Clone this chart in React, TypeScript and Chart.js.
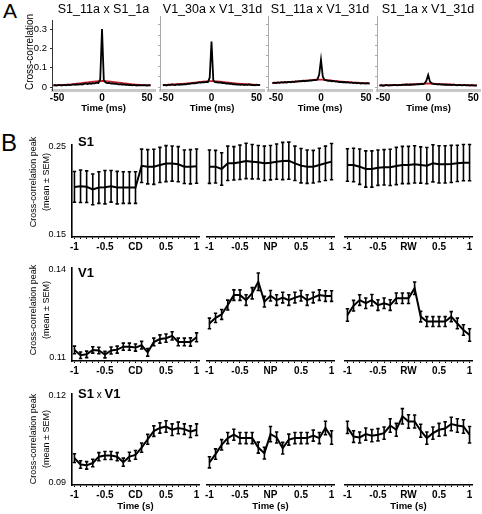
import React, { useEffect, useRef } from 'react';
import { Chart, registerables } from 'chart.js';

Chart.register(...registerables);

const FONT = '"Liberation Sans", Arial, Helvetica, sans-serif';
Chart.defaults.font.family = FONT;

// ---------------- Panel A data (cross-correlograms) ----------------
const lagsA = [-54, -52, -50, -48, -46, -44, -42, -40, -38, -36, -34, -32, -30, -28, -26, -24, -22, -20, -18, -16, -14, -12, -10, -8, -6, -4, -2, 0, 2, 4, 6, 8, 10, 12, 14, 16, 18, 20, 22, 24, 26, 28, 30, 32, 34, 36, 38, 40, 42, 44, 46, 48, 50, 52, 54];
const ccS1S1 = [0.009, 0.011, 0.008, 0.012, 0.010, 0.009, 0.012, 0.010, 0.013, 0.011, 0.012, 0.014, 0.012, 0.015, 0.013, 0.016, 0.014, 0.017, 0.019, 0.016, 0.020, 0.018, 0.021, 0.020, 0.023, 0.022, 0.040, 0.300, 0.036, 0.024, 0.021, 0.022, 0.019, 0.020, 0.017, 0.018, 0.015, 0.016, 0.014, 0.015, 0.012, 0.013, 0.011, 0.012, 0.010, 0.012, 0.009, 0.011, 0.010, 0.009, 0.011, 0.010, 0.008, 0.010, 0.009];
const ccV1V1 = [0.008, 0.010, 0.007, 0.011, 0.009, 0.012, 0.010, 0.009, 0.012, 0.011, 0.013, 0.012, 0.014, 0.013, 0.016, 0.015, 0.017, 0.019, 0.018, 0.020, 0.022, 0.021, 0.023, 0.022, 0.025, 0.024, 0.045, 0.220, 0.032, 0.024, 0.023, 0.021, 0.022, 0.019, 0.020, 0.017, 0.018, 0.015, 0.016, 0.013, 0.014, 0.012, 0.013, 0.010, 0.012, 0.009, 0.011, 0.010, 0.012, 0.009, 0.010, 0.008, 0.011, 0.009, 0.010];
const ccS1V1a = [0.018, 0.021, 0.019, 0.022, 0.020, 0.023, 0.021, 0.024, 0.022, 0.025, 0.023, 0.026, 0.024, 0.027, 0.026, 0.028, 0.027, 0.030, 0.028, 0.031, 0.030, 0.032, 0.031, 0.034, 0.033, 0.036, 0.060, 0.132, 0.050, 0.034, 0.032, 0.030, 0.031, 0.028, 0.029, 0.026, 0.027, 0.024, 0.025, 0.023, 0.024, 0.021, 0.023, 0.020, 0.022, 0.019, 0.021, 0.018, 0.020, 0.017, 0.019, 0.018, 0.017, 0.019, 0.016];
const ccS1V1b = [0.007, 0.009, 0.006, 0.008, 0.010, 0.007, 0.009, 0.008, 0.010, 0.009, 0.008, 0.010, 0.009, 0.011, 0.010, 0.012, 0.010, 0.012, 0.011, 0.013, 0.012, 0.014, 0.013, 0.015, 0.014, 0.017, 0.030, 0.058, 0.026, 0.017, 0.015, 0.014, 0.013, 0.014, 0.012, 0.013, 0.011, 0.012, 0.010, 0.011, 0.009, 0.011, 0.010, 0.008, 0.010, 0.009, 0.008, 0.010, 0.008, 0.009, 0.007, 0.009, 0.008, 0.007, 0.008];

const lagsRed = [-54, -44, -34, -24, -14, -6, 0, 6, 14, 24, 34, 44, 54];
const redS1S1 = [0.010, 0.012, 0.015, 0.020, 0.026, 0.030, 0.032, 0.030, 0.026, 0.020, 0.015, 0.012, 0.010];
const redV1V1 = [0.010, 0.012, 0.015, 0.019, 0.024, 0.027, 0.028, 0.027, 0.024, 0.019, 0.015, 0.012, 0.010];
const redS1V1a = [0.020, 0.022, 0.025, 0.028, 0.032, 0.035, 0.036, 0.034, 0.030, 0.026, 0.022, 0.020, 0.018];
const redS1V1b = [0.008, 0.009, 0.010, 0.012, 0.014, 0.016, 0.017, 0.016, 0.014, 0.012, 0.010, 0.009, 0.008];

const titlesA = ['S1_11a x S1_1a', 'V1_30a x V1_31d', 'S1_11a x V1_31d', 'S1_1a x V1_31d'];
const xTicksA = [-50, 0, 50];
const yTicksA = [0, 0.05, 0.1, 0.15, 0.2, 0.25, 0.3];
const yLabelsA = ['0', '', '0.1', '', '0.2', '', '0.3'];

// ---------------- Panel B data (peak mean ± SEM) ----------------
const timeB = [-1, -0.9, -0.8, -0.7, -0.6, -0.5, -0.4, -0.3, -0.2, -0.1, 0, 0.1, 0.2, 0.3, 0.4, 0.5, 0.6, 0.7, 0.8, 0.9, 1];
const eventNames = ['CD', 'NP', 'RW'];
const xLabelTicksB = [-1, -0.5, 0, 0.5, 1];
const xLabelTextB = ['-1', '-0.5', '', '0.5', '1'];

const s1CD = [0.2038, 0.2045, 0.2040, 0.2010, 0.2030, 0.2035, 0.2045, 0.2030, 0.2030, 0.2030, 0.2030, 0.2278, 0.2267, 0.2267, 0.2288, 0.2303, 0.2303, 0.2296, 0.2267, 0.2267, 0.2274];
const s1CDerr = [0.0175, 0.0185, 0.018, 0.0175, 0.018, 0.019, 0.018, 0.0185, 0.018, 0.018, 0.018, 0.019, 0.0195, 0.020, 0.020, 0.0205, 0.020, 0.020, 0.019, 0.0195, 0.0195];
const s1NP = [0.2224, 0.2224, 0.2199, 0.2260, 0.2260, 0.2271, 0.2285, 0.2278, 0.2271, 0.2260, 0.2267, 0.2278, 0.2285, 0.2288, 0.2260, 0.2235, 0.2224, 0.2224, 0.2242, 0.2260, 0.2278];
const s1NPerr = [0.018, 0.0175, 0.0175, 0.0185, 0.018, 0.0185, 0.019, 0.0185, 0.018, 0.0185, 0.0185, 0.019, 0.020, 0.020, 0.0185, 0.0185, 0.018, 0.0175, 0.018, 0.0185, 0.0195];
const s1RW = [0.2242, 0.2242, 0.2224, 0.2199, 0.2199, 0.2213, 0.2217, 0.2217, 0.2231, 0.2242, 0.2242, 0.2249, 0.2242, 0.2235, 0.2260, 0.2249, 0.2249, 0.2253, 0.2260, 0.2267, 0.2267];
const s1RWerr = [0.0175, 0.018, 0.019, 0.0195, 0.0195, 0.019, 0.019, 0.0195, 0.020, 0.020, 0.020, 0.020, 0.0195, 0.0195, 0.020, 0.020, 0.020, 0.020, 0.0195, 0.0195, 0.0195];

const v1CD = [0.1127, 0.1109, 0.1112, 0.1127, 0.1125, 0.1111, 0.1125, 0.1128, 0.1138, 0.1138, 0.1135, 0.1143, 0.1119, 0.1154, 0.1164, 0.1167, 0.1175, 0.1154, 0.1154, 0.1154, 0.1170];
const v1CDerr = [0.0013, 0.0011, 0.0011, 0.0011, 0.0011, 0.0011, 0.0012, 0.0012, 0.0012, 0.0012, 0.0012, 0.0013, 0.0013, 0.0013, 0.0014, 0.0014, 0.0014, 0.0013, 0.0013, 0.0014, 0.0015];
const v1NP = [0.1210, 0.1228, 0.1239, 0.1269, 0.1301, 0.1301, 0.1285, 0.1307, 0.1344, 0.1280, 0.1299, 0.1285, 0.1293, 0.1285, 0.1293, 0.1299, 0.1285, 0.1293, 0.1301, 0.1298, 0.1298];
const v1NPerr = [0.0017, 0.0015, 0.0016, 0.0016, 0.0017, 0.0017, 0.0017, 0.0018, 0.0028, 0.0017, 0.0017, 0.0017, 0.0017, 0.0017, 0.0017, 0.0017, 0.0017, 0.0017, 0.0017, 0.0017, 0.0017];
const v1RW = [0.1237, 0.1267, 0.1285, 0.1275, 0.1285, 0.1269, 0.1275, 0.1269, 0.1291, 0.1291, 0.1291, 0.1323, 0.1232, 0.1216, 0.1216, 0.1216, 0.1216, 0.1232, 0.1210, 0.1189, 0.1173];
const v1RWerr = [0.0020, 0.0017, 0.0017, 0.0017, 0.0018, 0.0017, 0.0017, 0.0017, 0.0017, 0.0017, 0.0017, 0.0020, 0.0017, 0.0016, 0.0016, 0.0016, 0.0016, 0.0016, 0.0017, 0.0017, 0.0020];

const xCD = [0.0984, 0.0962, 0.0959, 0.0967, 0.0989, 0.0993, 0.0993, 0.0989, 0.0970, 0.0989, 0.0995, 0.1020, 0.1049, 0.1077, 0.1088, 0.1093, 0.1082, 0.1088, 0.1084, 0.1075, 0.1082];
const xCDerr = [0.0015, 0.0013, 0.0013, 0.0013, 0.0014, 0.0014, 0.0014, 0.0014, 0.0014, 0.0015, 0.0015, 0.0016, 0.0017, 0.0018, 0.0018, 0.0020, 0.0020, 0.0020, 0.0018, 0.0020, 0.0020];
const xNP = [0.0965, 0.0992, 0.1022, 0.1044, 0.1055, 0.1044, 0.1044, 0.1044, 0.1013, 0.0995, 0.1057, 0.1046, 0.1011, 0.1039, 0.1044, 0.1044, 0.1044, 0.1052, 0.1044, 0.1077, 0.1046];
const xNPerr = [0.0018, 0.0017, 0.0017, 0.0018, 0.0018, 0.0018, 0.0018, 0.0018, 0.0018, 0.0019, 0.0025, 0.0018, 0.0019, 0.0018, 0.0018, 0.0018, 0.0018, 0.0018, 0.0018, 0.0022, 0.0022];
const xRW = [0.1079, 0.1049, 0.1046, 0.1057, 0.1052, 0.1055, 0.1060, 0.1085, 0.1071, 0.1115, 0.1098, 0.1098, 0.1068, 0.1044, 0.1060, 0.1071, 0.1075, 0.1090, 0.1085, 0.1082, 0.1055];
const xRWerr = [0.0020, 0.0019, 0.0018, 0.0020, 0.0020, 0.0020, 0.0020, 0.0022, 0.0021, 0.0025, 0.0022, 0.0021, 0.0021, 0.0020, 0.0020, 0.0021, 0.0022, 0.0022, 0.0022, 0.0022, 0.0027];

const rowNames = ['S1', 'V1', 'S1 x V1'];
const rowYTicks = [[0.15, 0.25], [0.11, 0.14], [0.09, 0.12]];
const rowYLabels = [['0.15', '0.25'], ['0.11', '0.14'], ['0.09', '0.12']];
const rowValues = [[s1CD, s1NP, s1RW], [v1CD, v1NP, v1RW], [xCD, xNP, xRW]];
const rowErrors = [[s1CDerr, s1NPerr, s1RWerr], [v1CDerr, v1NPerr, v1RWerr], [xCDerr, xNPerr, xRWerr]];

// ---------------- layout (pixels) ----------------
const rowsB = [
  { t: 139, b: 237, min: 0.14677, max: 0.25215 },
  { t: 262, b: 361, min: 0.10894, max: 0.14074 },
  { t: 388, b: 485, min: 0.08912, max: 0.12072 },
];
const colsB = [{ l: 72, r: 199 }, { l: 207, r: 334 }, { l: 345, r: 472 }];
const colsA = [
  { l: 52, r: 155, min: -55.6, max: 58.9 },
  { l: 160, r: 264, min: -57.2, max: 58.3 },
  { l: 268, r: 372, min: -58.9, max: 56.7 },
  { l: 377, r: 480, min: -56.7, max: 57.4 },
];
const titleCentersA = [103.5, 212.5, 320, 428];

const errorBarPlugin = {
  id: 'errorBars',
  afterDatasetsDraw(chart: any) {
    const ctx = chart.ctx;
    chart.data.datasets.forEach((ds: any, i: number) => {
      const errs = ds.errors;
      if (!errs) return;
      const meta = chart.getDatasetMeta(i);
      const xs = chart.scales[meta.xAxisID];
      const ys = chart.scales[meta.yAxisID];
      ctx.save();
      ctx.strokeStyle = '#000';
      ctx.lineWidth = 1.6;
      ds.data.forEach((p: any, j: number) => {
        const x = xs.getPixelForValue(p.x);
        const y1 = ys.getPixelForValue(p.y - errs[j]);
        const y2 = ys.getPixelForValue(p.y + errs[j]);
        ctx.beginPath();
        ctx.moveTo(x, y1);
        ctx.lineTo(x, y2);
        ctx.moveTo(x - 1.7, y1);
        ctx.lineTo(x + 1.7, y1);
        ctx.moveTo(x - 1.7, y2);
        ctx.lineTo(x + 1.7, y2);
        ctx.stroke();
      });
      ctx.restore();
    });
  },
};

type Spec = { box: { left: number; top: number; width: number; height: number }; make: () => any };

function baseOptions(pad: any) {
  return {
    animation: false,
    responsive: false,
    maintainAspectRatio: false,
    events: [],
    layout: { padding: { left: pad.l, right: pad.r, top: pad.t, bottom: pad.b }, autoPadding: false },
    plugins: { legend: { display: false }, tooltip: { enabled: false }, title: { display: false } },
  };
}

function boxFor(area: any, yw: number, xh: number, pad: any) {
  return {
    left: area.l - yw - pad.l,
    top: area.t - pad.t,
    width: pad.l + yw + (area.r - area.l) + pad.r,
    height: pad.t + (area.b - area.t) + xh + pad.b,
  };
}

function specsA(): Spec[] {
  const series = [ccS1S1, ccV1V1, ccS1V1a, ccS1V1b];
  const reds = [redS1S1, redV1V1, redS1V1a, redS1V1b];
  return colsA.map((c, i) => {
    const yw = i === 0 ? 22 : 4;
    const xh = 24;
    const pad = { l: i === 0 ? 0 : 6, r: i === 3 ? 2 : 8, t: 4, b: 0 };
    const area = { l: c.l, r: c.r, t: 16, b: 90 };
    const axisCol = i === 0 ? '#333' : '#aaa';
    return {
      box: boxFor(area, yw, xh, pad),
      make: () => ({
        type: 'line',
        data: {
          datasets: [
            {
              data: lagsA.map((x, k) => ({ x, y: series[i][k] })),
              borderColor: '#000',
              borderWidth: 1.8,
              pointRadius: 0,
              tension: 0,
            },
            {
              data: lagsRed.map((x, k) => ({ x, y: reds[i][k] })),
              borderColor: '#c8202c',
              borderWidth: 1.8,
              pointRadius: 0,
              tension: 0.4,
            },
          ],
        },
        options: {
          ...baseOptions(pad),
          scales: {
            x: {
              type: 'linear',
              min: c.min,
              max: c.max,
              afterBuildTicks: (s: any) => { s.ticks = xTicksA.map((v) => ({ value: v })); },
              afterFit: (s: any) => { s.height = xh; },
              ticks: {
                autoSkip: false, maxRotation: 0, minRotation: 0, padding: 0, color: '#000',
                font: { family: FONT, size: 10, weight: 'bold' },
                callback: (v: number) => String(v),
              },
              grid: { display: true, drawOnChartArea: false, drawTicks: true, tickLength: 2, color: '#999', lineWidth: 1 },
              border: { display: true, color: '#c8c8c8', width: 3 },
              title: { display: true, text: 'Time (ms)', color: '#000', padding: 0, font: { family: FONT, size: 9.5, weight: 'bold' } },
            },
            y: {
              type: 'linear',
              min: -0.0145,
              max: 0.3435,
              afterBuildTicks: (s: any) => { s.ticks = yTicksA.map((v) => ({ value: v })); },
              afterFit: (s: any) => { s.width = yw; },
              ticks: {
                display: i === 0, padding: 3, color: '#000',
                font: { family: FONT, size: 9.5 },
                callback: (_v: number, idx: number) => yLabelsA[idx],
              },
              grid: { display: true, drawOnChartArea: false, drawTicks: true, tickLength: 2, color: axisCol, lineWidth: 1 },
              border: { display: true, color: axisCol, width: 1 },
            },
          },
        },
      }),
    };
  });
}

function specsB(): Spec[] {
  const out: Spec[] = [];
  rowsB.forEach((row, r) => {
    colsB.forEach((col, c) => {
      const showY = c === 0;
      const yw = showY ? 30 : 0;
      const xh = r === 2 ? 27 : 20;
      const pad = { l: showY ? 0 : 8, r: 8, t: 6, b: 0 };
      const area = { l: col.l, r: col.r, t: row.t, b: row.b };
      const vals = rowValues[r][c];
      const errs = rowErrors[r][c];
      const labels = xLabelTextB.map((s, k) => (k === 2 ? eventNames[c] : s));
      out.push({
        box: boxFor(area, yw, xh, pad),
        make: () => ({
          type: 'line',
          data: {
            datasets: [
              {
                data: timeB.map((x, k) => ({ x, y: vals[k] })),
                errors: errs,
                borderColor: '#000',
                borderWidth: 2,
                pointRadius: 0,
                tension: 0,
                clip: false,
              },
            ],
          },
          plugins: [errorBarPlugin],
          options: {
            ...baseOptions(pad),
            scales: {
              x: {
                type: 'linear',
                min: -1.04,
                max: 1.04,
                afterBuildTicks: (s: any) => { s.ticks = timeB.map((v) => ({ value: v })); },
                afterFit: (s: any) => { s.height = xh; },
                ticks: {
                  autoSkip: false, maxRotation: 0, minRotation: 0, padding: 2.5, color: '#000',
                  font: { family: FONT, size: 10, weight: 'bold' },
                  callback: (v: number) => {
                    const k = xLabelTicksB.findIndex((t) => Math.abs(t - v) < 1e-6);
                    return k >= 0 ? labels[k] : '';
                  },
                },
                grid: { display: true, drawOnChartArea: false, drawTicks: true, tickLength: 2, color: '#000', lineWidth: 1 },
                border: { display: true, color: '#000', width: 1.6 },
                title: {
                  display: r === 2, text: 'Time (s)', color: '#000', padding: 0,
                  font: { family: FONT, size: 9.5, weight: 'bold' },
                },
              },
              y: {
                type: 'linear',
                display: showY,
                min: row.min,
                max: row.max,
                afterBuildTicks: (s: any) => { s.ticks = rowYTicks[r].map((v) => ({ value: v })); },
                afterFit: (s: any) => { s.width = yw; },
                ticks: {
                  padding: 6, color: '#000',
                  font: { family: FONT, size: 9 },
                  callback: (_v: number, idx: number) => rowYLabels[r][idx],
                },
                grid: { display: false, drawTicks: false, drawOnChartArea: false },
                border: { display: true, color: '#000', width: 1.6 },
              },
            },
          },
        }),
      });
    });
  });
  return out;
}

function ChartCanvas({ spec }: { spec: Spec }) {
  const ref = useRef<HTMLCanvasElement>(null);
  useEffect(() => {
    const chart = new Chart(ref.current as HTMLCanvasElement, spec.make());
    return () => chart.destroy();
  }, [spec]);
  const b = spec.box;
  return (
    <canvas
      ref={ref}
      width={b.width}
      height={b.height}
      style={{ position: 'absolute', left: b.left, top: b.top, width: b.width, height: b.height }}
    />
  );
}

const allSpecs = [...specsA(), ...specsB()];

const rowLabelTops = [135, 266, 387];
const rowTitleCenters = [182, 310, 439];

export default function App() {
  const txt: React.CSSProperties = { position: 'absolute', fontFamily: FONT, color: '#000', whiteSpace: 'nowrap' };
  return (
    <div style={{ position: 'fixed', left: 0, top: 0, width: 482, height: 514, background: '#fff', overflow: 'hidden' }}>
      {allSpecs.map((s, i) => (
        <ChartCanvas key={i} spec={s} />
      ))}
      <div style={{ ...txt, left: 3, top: 0, fontSize: 21, lineHeight: '21px' }}>A</div>
      <div style={{ ...txt, left: 1, top: 131, fontSize: 24, lineHeight: '24px' }}>B</div>
      {titlesA.map((t, i) => (
        <div key={t} style={{ ...txt, left: titleCentersA[i] - 60, width: 120, top: 3, fontSize: 12.5, lineHeight: '12px', textAlign: 'center' }}>{t}</div>
      ))}
      <div style={{ ...txt, left: 30, top: 52, fontSize: 10, lineHeight: '10px', transform: 'translate(-50%, -50%) rotate(-90deg)' }}>Cross-correlation</div>
      {rowTitleCenters.map((cy, i) => (
        <div key={'yt' + i} style={{ ...txt, left: 39.5, top: cy, fontSize: 9, lineHeight: '13px', textAlign: 'center', transform: 'translate(-50%, -50%) rotate(-90deg)' }}>
          Cross-correlation peak<br />(mean ± SEM)
        </div>
      ))}
      {rowNames.map((n, i) => {
        const parts = n.split(' x ');
        return (
          <div key={n} style={{ ...txt, left: 78, top: rowLabelTops[i], fontSize: 13, lineHeight: '13px', fontWeight: 'bold' }}>
            {parts[0]}
            {parts.length > 1 ? (
              <>
                <span style={{ fontWeight: 'normal', fontSize: 10 }}> x </span>
                {parts[1]}
              </>
            ) : null}
          </div>
        );
      })}
    </div>
  );
}
